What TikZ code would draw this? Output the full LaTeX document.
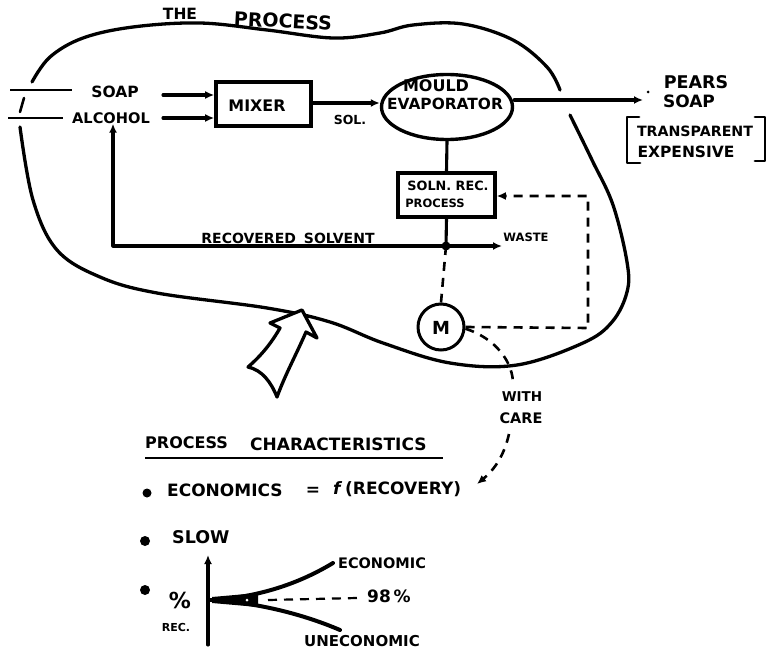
\documentclass[tikz,border=0pt]{standalone}
\usepackage{fontspec}
\setmainfont{DejaVu Sans}
\usetikzlibrary{arrows.meta,shapes.geometric,calc}
\begin{document}
\begin{tikzpicture}[x=1pt,y=-1pt,
  t/.style={inner sep=0pt, font=\bfseries\fontsize{#1}{#1}\selectfont},
  wire/.style={line width=3.1pt, line cap=round, line join=round},
  flow/.style={wire, -{Latex[length=9pt,width=8pt]}},
  dashwire/.style={line width=2.6pt, dash pattern=on 9pt off 7pt},
  dashflow/.style={dashwire, -{Latex[length=9pt,width=8pt]}},
  outline/.style={line width=3.3pt, line cap=round, line join=round},
  unitbox/.style={draw, line width=3.6pt, rectangle, inner sep=0pt},
  dot/.style={circle, fill, inner sep=0pt, minimum size=#1},
]
\useasboundingbox (0,0) rectangle (767,652);

% boundary of the process
\draw[outline] plot[smooth, tension=0.6] coordinates {
  (560,90) (547,67) (513,40) (463,24) (413,25) (380,33) (333,38)
  (267,30) (200,23) (133,27) (83,38) (50,57) (32,82)};
\draw[outline] plot[smooth, tension=0.6] coordinates {
  (20,127) (33,200) (57,250) (100,277) (157,293) (267,308) (330,322)
  (383,343) (450,363) (517,365) (583,343) (612,322) (627,292) (627,262)
  (613,205) (592,160) (570,115)};
\node[t=15.5] (the) at (180,14) {THE};
\node[t=19, rotate=-3] (process) at (283,21) {PROCESS};

% feed lines
\draw[line width=2.4pt] (10,90) -- (72,90);
\draw[line width=2.4pt] (8,118) -- (63,118);
\draw[line width=2.6pt, line cap=round] (24,98) -- (20,112);
\node[t=15.5] (soap) at (115,92) {SOAP};
\node[t=14.6] (alcohol) at (111,118) {ALCOHOL};

% units
\node[unitbox, minimum width=95pt, minimum height=44pt] (mixer) at (263.5,104) {};
\node[t=15.9] (mixerlbl) at (257,106) {MIXER};
\node[draw, ellipse, line width=3.4pt, minimum width=131pt, minimum height=65pt, inner sep=0pt] (evap) at (447,107) {};
\node[t=16] (mould) at (436,86) {MOULD};
\node[t=15.4] (evaplbl) at (445,104) {EVAPORATOR};
\node[unitbox, minimum width=97pt, minimum height=44pt] (soln) at (446.5,195) {};
\node[t=12.8] (solnlbl) at (448,186) {SOLN. REC.};
\node[t=11.5] (proclbl) at (435,203) {PROCESS};
\node[draw, circle, line width=3pt, minimum size=46pt, inner sep=0pt] (motor) at (441,327) {};
\node[t=18] (mlbl) at (441,328) {M};

% product
\node[t=17.5] (pears) at (696,82) {PEARS};
\node[t=17] (psoap) at (689,101) {SOAP};
\node[t=14.2] (transp) at (695,131) {TRANSPARENT};
\node[t=15.5] (expens) at (686,152) {EXPENSIVE};
\draw[wire, line width=2.8pt] (639,117) -- (627,117) -- (627,163) -- (640,163);
\draw[wire, line width=2.8pt] (755,117) -- (765,117) -- (765,161) -- (755,161);
\node[dot=3pt] (speck) at (648,92) {};

% named free ends and junction
\coordinate (soapin) at (163,95);
\coordinate (alcin) at (163,118);
\coordinate (j) at (446,246);
\coordinate (pout) at (643,100);
\coordinate (wout) at (502,246);
\coordinate (rsc) at (113,246);
\coordinate (dc1) at (588,328);
\coordinate (dc2) at (588,196);

% main flows
\draw[flow] (soapin) -- (soapin -| mixer.west);
\draw[flow] (alcin) -- (alcin -| mixer.west);
\draw[flow] (mixer.east |- 0,103) -- (evap.west |- 0,103);
\node[t=12.5] (sol) at (350,120) {SOL.};
\draw[flow] (evap.east |- 0,100) -- (pout);
\draw[wire] (evap.south) -- (soln.north);
\draw[wire] (soln.south) -- (j);
\fill (j) circle (4.5pt);
\draw[flow] (j) -- (rsc) -- (rsc |- alcohol.south);
\node[t=14] (rslbl) at (288,238) {RECOVERED\hspace{8pt}SOLVENT};
\draw[flow] (j) -- (wout);
\node[t=11.5] (waste) at (526,237) {WASTE};

% control loop
\draw[dashwire] (j) -- (motor.north);
\draw[dashflow] (motor.east) -- (dc1) -- (dc2) -- (soln.east |- dc2);
\draw[dashwire] (motor.-4) .. controls (495,338) and (514,362) .. (513,386);
\node[t=13.5] (with) at (522,397) {WITH};
\node[t=14.5] (care) at (521,418) {CARE};
\coordinate (cend) at (477,484);
\draw[dashflow] (509,434) .. controls (504,456) and (494,470) .. (cend);

% entry arrow
\draw[outline, fill=white] (302,310) -- (317,338) -- (306,332)
  .. controls (296,355) and (285,375) .. (277,397)
  .. controls (271,382) and (262,370) .. (248,367)
  .. controls (262,355) and (272,342) .. (280,328) -- (270,323) -- cycle;

% characteristics
\node[t=16, anchor=west] (pc1) at (145,443) {PROCESS};
\node[t=17, anchor=west] (pc2) at (250,444) {CHARACTERISTICS};
\draw[line width=2.6pt] (145,458) -- (443,458);
\node[dot=9pt] (b1) at (147,493) {};
\node[t=17, anchor=west] (econ) at (167,490) {ECONOMICS};
\node[t=17] (eq) at (313,491) {=};
\node[t=17, anchor=west] (frec) at (333,489) {\textit{f}\,(RECOVERY)};
\node[dot=10pt] (b2) at (145,541) {};
\node[t=17.5, anchor=west] (slow) at (172,537) {SLOW};
\node[dot=10pt] (b3) at (145,590) {};

% recovery sketch
\draw[wire, -{Latex[length=9pt,width=8pt]}] (208,645) -- (208,555);
\node[t=22] (pct) at (180,600) {\%};
\node[t=11] (rec) at (176,627) {REC.};
\draw[line width=4pt] (208,600) -- (214,600);
\draw[line width=4pt, line cap=round] (212,600) .. controls (260,597) and (300,583) .. (333,563);
\draw[line width=4pt, line cap=round] (212,600) .. controls (260,603) and (305,615) .. (340,630);
\fill (212,597) -- (258,593) -- (258,607) -- (212,603) -- cycle;
\fill[white] (247,600) circle (1.5pt);
\draw[dashwire, line width=2.2pt] (268,600) -- (357,598);
\node[t=14.5] (ecolbl) at (382,563) {ECONOMIC};
\node[t=17] (pc98) at (389,596) {98\,\%};
\node[t=15] (uneco) at (362,641) {UNECONOMIC};
\end{tikzpicture}
\end{document}
